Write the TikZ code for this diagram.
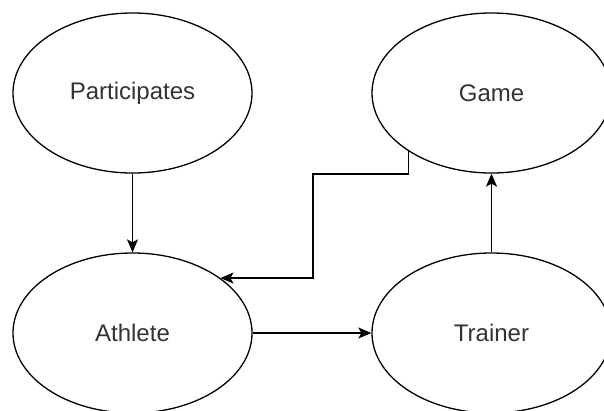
\documentclass[tikz,border=0pt]{standalone}
\usepackage{fontspec}
\setmainfont{Liberation Sans}
\usetikzlibrary{shapes.geometric,arrows.meta}

\begin{document}
\begin{tikzpicture}[x=1pt,y=-1pt,
  entity/.style={draw,ellipse,line width=1.3pt,minimum width=239pt,minimum height=160pt,inner sep=0pt,
    font=\fontsize{24}{28}\selectfont,text=black!80},
  link/.style={line width=1.4pt,-{Stealth[length=13pt,width=11pt,inset=3pt]}}]
\clip (0,0) rectangle (604,410);
\node [entity] (participates) at (132.5,93) {Participates};
\node [entity] (game) at (491.5,93) {Game};
\node [entity] (athlete) at (132.5,333) {Athlete};
\node [entity] (trainer) at (491.5,333) {Trainer};
\coordinate (bend) at (313,174);
\draw [link] (participates) -- (athlete);
\draw [link] (athlete) -- (trainer);
\draw [link] (trainer) -- (game);
\draw [link] (game.215) |- (bend) |- (athlete.32.6);
\end{tikzpicture}
\end{document}
